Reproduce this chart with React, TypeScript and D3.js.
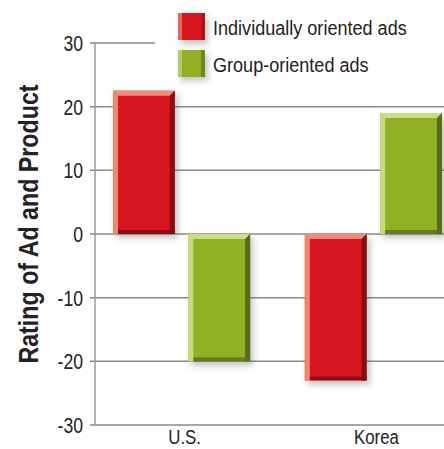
import React from "react";
import * as d3 from "d3";

const categories = ["U.S.", "Korea"];
const seriesNames = ["Individually oriented ads", "Group-oriented ads"];
const individualValues = [22.5, -23];
const groupValues = [-20, 19];
const yTicks = [30, 20, 10, 0, -10, -20, -30];

const W = 444;
const H = 449;
const FONT = "'Liberation Sans', Arial, sans-serif";

const palettes = [
  { body: "#d71920", light: "#f2876f", top: "#ef8c78", dark: "#8c1010", bottom: "#7c0e0e" },
  { body: "#92b026", light: "#c6da80", top: "#cadd8a", dark: "#566c14", bottom: "#58701a" },
];

function CText({ x, y, sx, anchor, size, weight, rotate, children }: any) {
  return (
    <text
      transform={`translate(${x},${y})${rotate ? ` rotate(${rotate})` : ""} scale(${sx},1)`}
      textAnchor={anchor || "start"}
      fontFamily={FONT}
      fontSize={size}
      fontWeight={weight || "normal"}
      fill="#222"
    >
      {children}
    </text>
  );
}

function Bar({ x, w, v, y, p }: any) {
  const y0 = y(0);
  const y1 = y(v);
  const top = Math.min(y0, y1);
  const bot = Math.max(y0, y1);
  const s = 5;
  return (
    <g filter="url(#shadow)">
      <rect x={x} y={top} width={w} height={bot - top} fill={p.body} />
      <rect x={x} y={top} width={s} height={bot - top} fill={p.light} />
      <polygon
        points={`${x},${top} ${x + w},${top} ${x + w - s},${top + s} ${x + s},${top + s}`}
        fill={p.top}
      />
      <polygon
        points={`${x + w - s},${top + s} ${x + w},${top} ${x + w},${bot} ${x + w - s},${bot}`}
        fill={p.dark}
      />
      <rect x={x + s} y={bot - 4} width={w - s} height={4} fill={p.bottom} opacity={0.8} />
    </g>
  );
}

export default function App() {
  const y = d3.scaleLinear().domain([-30, 30]).range([425, 43]);
  const x0 = d3
    .scaleBand()
    .domain(categories)
    .range([95, 460])
    .paddingInner(0.285)
    .paddingOuter(0.094);
  const x1 = d3.scaleBand().domain(seriesNames).range([0, x0.bandwidth()]).paddingInner(0.18);
  const series = [individualValues, groupValues];

  return (
    <svg width={W} height={H} style={{ position: "absolute", left: 0, top: 0, background: "#fff" }}>
      <defs>
        <filter id="shadow" x="-20%" y="-20%" width="150%" height="150%">
          <feDropShadow dx="3" dy="4" stdDeviation="3" floodColor="#555" floodOpacity="0.35" />
        </filter>
      </defs>
      {yTicks.map((t) => (
        <line
          key={t}
          x1={90}
          x2={t === 30 ? 155 : W}
          y1={y(t)}
          y2={y(t)}
          stroke="#8a8a8a"
          strokeWidth={1.5}
        />
      ))}
      <line x1={95} x2={95} y1={y(30)} y2={y(-30)} stroke="#9a9a9a" strokeWidth={1.5} />
      {yTicks.map((t) => (
        <CText key={"l" + t} x={83} y={y(t) + 8} sx={0.8} anchor="end" size={22}>
          {t}
        </CText>
      ))}
      <CText x={38} y={224} sx={0.83} anchor="middle" size={28} weight="bold" rotate={-90}>
        Rating of Ad and Product
      </CText>
      {categories.map((c, i) =>
        series.map((vals, j) => (
          <Bar
            key={c + j}
            x={(x0(c) as number) + (x1(seriesNames[j]) as number)}
            w={x1.bandwidth()}
            v={vals[i]}
            y={y}
            p={palettes[j]}
          />
        ))
      )}
      {categories.map((c) => (
        <CText
          key={"c" + c}
          x={(x0(c) as number) + x0.bandwidth() / 2 + 3}
          y={444}
          sx={0.8}
          anchor="middle"
          size={21}
        >
          {c}
        </CText>
      ))}
      {seriesNames.map((n, j) => (
        <g key={n} transform={`translate(178,${13 + j * 37})`}>
          <g filter="url(#shadow)">
            <rect x={0} y={0} width={27} height={27} fill={palettes[j].body} />
            <rect x={0} y={0} width={4} height={27} fill={palettes[j].light} opacity={0.7} />
            <rect x={23} y={0} width={4} height={27} fill={palettes[j].dark} opacity={0.6} />
          </g>
          <CText x={35} y={22} sx={0.86} size={21}>
            {n}
          </CText>
        </g>
      ))}
    </svg>
  );
}
